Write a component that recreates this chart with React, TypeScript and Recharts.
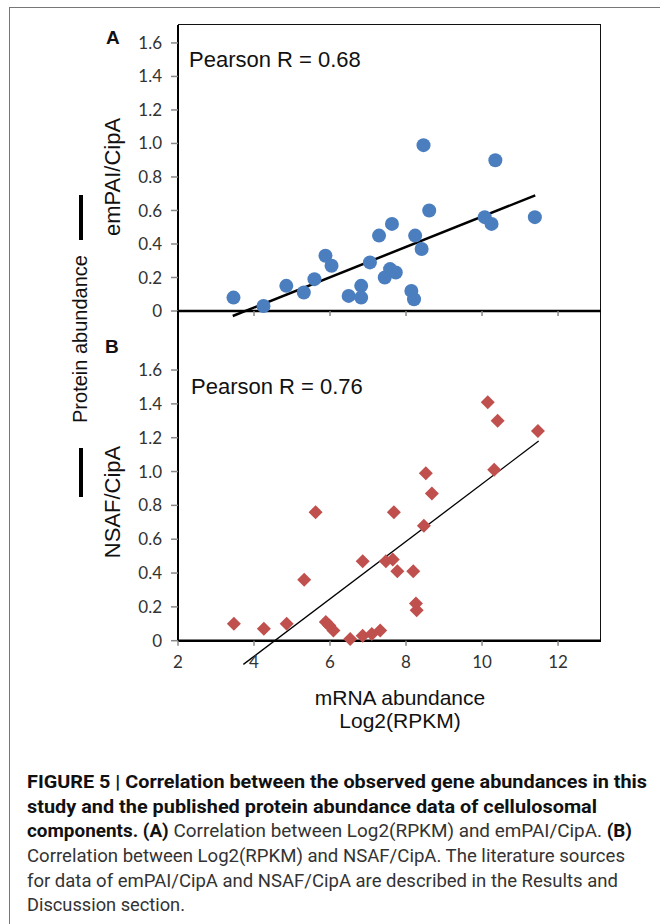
import React from "react";
import { ScatterChart, Scatter, XAxis, YAxis, ReferenceLine } from "recharts";

// axis ticks
const xTicksA = [4, 6, 8, 10, 12];
const xTicksB = [2, 4, 6, 8, 10, 12];
const yTicks = [0, 0.2, 0.4, 0.6, 0.8, 1.0, 1.2, 1.4, 1.6];

// panel A: Log2(RPKM) vs emPAI/CipA
const rpkmA = [3.46, 4.25, 4.85, 5.31, 5.59, 5.88, 6.04, 6.49, 6.82, 6.82, 7.05, 7.29, 7.44, 7.58, 7.73, 7.63, 8.14, 8.21, 8.24, 8.41, 8.46, 8.61, 10.07, 10.25, 10.35, 11.39];
const empai = [0.08, 0.03, 0.15, 0.11, 0.19, 0.33, 0.27, 0.09, 0.15, 0.08, 0.29, 0.45, 0.2, 0.25, 0.23, 0.52, 0.12, 0.07, 0.45, 0.37, 0.99, 0.6, 0.56, 0.52, 0.9, 0.56];
const trendA = [
  { x: 3.44, y: -0.03 },
  { x: 11.4, y: 0.69 },
];

// panel B: Log2(RPKM) vs NSAF/CipA
const rpkmB = [3.47, 4.26, 4.86, 5.32, 5.62, 5.89, 5.98, 6.09, 6.53, 6.86, 6.86, 7.1, 7.32, 7.47, 7.65, 7.68, 7.77, 8.19, 8.26, 8.28, 8.47, 8.52, 8.68, 10.15, 10.32, 10.41, 11.47];
const nsaf = [0.1, 0.07, 0.1, 0.36, 0.76, 0.11, 0.09, 0.06, 0.01, 0.47, 0.03, 0.04, 0.06, 0.47, 0.48, 0.76, 0.41, 0.41, 0.22, 0.18, 0.68, 0.99, 0.87, 1.41, 1.01, 1.3, 1.24];
const trendB = [
  { x: 3.72, y: -0.14 },
  { x: 11.49, y: 1.18 },
];

const pointsA = rpkmA.map((x, i) => ({ x, y: empai[i] }));
const pointsB = rpkmB.map((x, i) => ({ x, y: nsaf[i] }));

const X_MAX = 13.13;
const fmtY = (v: number) => (v === 0 ? "0" : v.toFixed(1));
const tickFont = { fill: "#333", fontSize: 17, fontFamily: "Lato, sans-serif" };
const sans = "'Liberation Sans', Arial, sans-serif";
const captionFont = "Roboto, 'Liberation Sans', sans-serif";

const BlueDot = (props: any) => (
  <circle cx={props.cx} cy={props.cy} r={7} fill="#4A7EBF" />
);

const RedDiamond = (props: any) => {
  const { cx, cy } = props;
  const s = 7;
  return (
    <polygon
      points={`${cx},${cy - s} ${cx + s},${cy} ${cx},${cy + s} ${cx - s},${cy}`}
      fill="#C0504D"
    />
  );
};

const Caption = () => (
  <g fontFamily={captionFont} fontSize={17.5} fill="#111">
    <text x={27} y={788} textLength={620} lengthAdjust="spacingAndGlyphs" fontWeight="bold">
      FIGURE 5 | Correlation between the observed gene abundances in this
    </text>
    <text x={27} y={813} textLength={570} lengthAdjust="spacingAndGlyphs" fontWeight="bold">
      study and the published protein abundance data of cellulosomal
    </text>
    <text x={27} y={837} textLength={605} lengthAdjust="spacingAndGlyphs">
      <tspan fontWeight="bold">components. (A)</tspan>
      <tspan fill="#333"> Correlation between Log2(RPKM) and emPAI/CipA. </tspan>
      <tspan fontWeight="bold">(B)</tspan>
    </text>
    <text x={27} y={862} textLength={598} lengthAdjust="spacingAndGlyphs" fill="#333">
      Correlation between Log2(RPKM) and NSAF/CipA. The literature sources
    </text>
    <text x={27} y={887} textLength={591} lengthAdjust="spacingAndGlyphs" fill="#333">
      for data of emPAI/CipA and NSAF/CipA are described in the Results and
    </text>
    <text x={27} y={911} textLength={158} lengthAdjust="spacingAndGlyphs" fill="#333">
      Discussion section.
    </text>
  </g>
);

export default function App() {
  return (
    <div style={{ position: "absolute", left: 0, top: 0, width: 660, height: 924, background: "#fff", overflow: "hidden" }}>
      {/* outer figure border */}
      <div style={{ position: "absolute", left: 9, top: 7, width: 660, height: 930, borderLeft: "1.5px solid #777", borderTop: "1.5px solid #777" }} />
      {/* plot frame: top + right edges */}
      <div style={{ position: "absolute", left: 178, top: 24, width: 422, height: 616, borderTop: "1.5px solid #111", borderRight: "1.5px solid #111" }} />

      {/* panel A */}
      <div style={{ position: "absolute", left: 0, top: 0 }}>
        <ScatterChart width={660} height={340} margin={{ top: 25, right: 59, bottom: 9, left: 138 }}>
          <XAxis
            type="number"
            dataKey="x"
            domain={[2, X_MAX]}
            ticks={xTicksA}
            tickFormatter={() => ""}
            axisLine={{ stroke: "#000", strokeWidth: 2.5 }}
            tickLine={{ stroke: "#888", strokeWidth: 1.5 }}
            tickSize={5}
            height={20}
          />
          <YAxis
            type="number"
            dataKey="y"
            domain={[0, 1.707]}
            ticks={yTicks}
            tickFormatter={fmtY}
            axisLine={{ stroke: "#000", strokeWidth: 2 }}
            tickLine={{ stroke: "#888", strokeWidth: 1.5 }}
            tickSize={7}
            tickMargin={9}
            tick={tickFont}
            width={40}
          />
          <Scatter data={pointsA} shape={BlueDot} isAnimationActive={false} />
          <ReferenceLine segment={trendA} stroke="#000" strokeWidth={2.5} ifOverflow="visible" />
        </ScatterChart>
      </div>

      {/* panel B */}
      <div style={{ position: "absolute", left: 0, top: 0 }}>
        <ScatterChart width={660} height={700} margin={{ top: 311, right: 59, bottom: 29.3, left: 138 }}>
          <XAxis
            type="number"
            dataKey="x"
            domain={[2, X_MAX]}
            ticks={xTicksB}
            axisLine={{ stroke: "#000", strokeWidth: 2.5 }}
            tickLine={{ stroke: "#888", strokeWidth: 1.5 }}
            tickSize={5}
            tickMargin={10}
            tick={tickFont}
            height={30}
          />
          <YAxis
            type="number"
            dataKey="y"
            domain={[0, 1.949]}
            ticks={yTicks}
            tickFormatter={fmtY}
            axisLine={{ stroke: "#000", strokeWidth: 2 }}
            tickLine={{ stroke: "#888", strokeWidth: 1.5 }}
            tickSize={7}
            tickMargin={9}
            tick={tickFont}
            width={40}
          />
          <Scatter data={pointsB} shape={RedDiamond} isAnimationActive={false} />
          <ReferenceLine segment={trendB} stroke="#000" strokeWidth={1.3} ifOverflow="visible" />
        </ScatterChart>
      </div>

      {/* labels */}
      <svg width={660} height={924} style={{ position: "absolute", left: 0, top: 0, pointerEvents: "none" }}>
        <g fontFamily={sans} fill="#111">
          <text x={106} y={44} fontSize={19} fontWeight="bold">A</text>
          <text x={105} y={353} fontSize={19} fontWeight="bold">B</text>
          <text x={189} y={67} fontSize={22}>Pearson R = 0.68</text>
          <text x={191} y={394} fontSize={22}>Pearson R = 0.76</text>
          <text x={120} y={177} fontSize={22} textAnchor="middle" transform="rotate(-90 120 177)">emPAI/CipA</text>
          <text x={120} y={502} fontSize={22} textAnchor="middle" transform="rotate(-90 120 502)">NSAF/CipA</text>
          <text x={87} y={339} fontSize={20} textAnchor="middle" transform="rotate(-90 87 339)">Protein abundance</text>
          <line x1={81} y1={195} x2={81} y2={240} stroke="#000" strokeWidth={4} />
          <line x1={81} y1={448} x2={81} y2={497} stroke="#000" strokeWidth={4} />
          <text x={400} y={705} fontSize={21} textAnchor="middle">mRNA abundance</text>
          <text x={400} y={728} fontSize={21} textAnchor="middle">Log2(RPKM)</text>
        </g>
        <Caption />
      </svg>
    </div>
  );
}
